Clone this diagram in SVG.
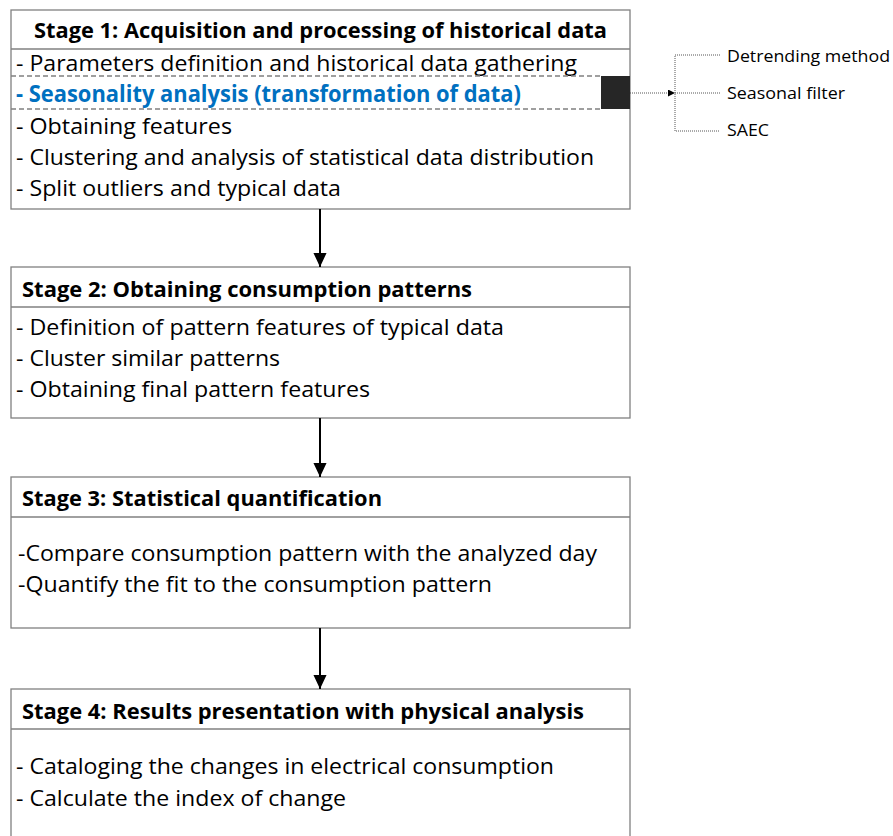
<svg xmlns="http://www.w3.org/2000/svg" width="893" height="836" viewBox="0 0 893 836">
<style>
.box{fill:#fff;stroke:#808080;stroke-width:1.3}
.div{stroke:#808080;stroke-width:1.3}
.t{font-family:"Open Sans","Liberation Sans",sans-serif;font-size:22.5px;fill:#000}
.h{font-family:"Open Sans","Liberation Sans",sans-serif;font-size:22px;font-weight:bold;fill:#000}
.s{font-family:"Open Sans","Liberation Sans",sans-serif;font-size:16px;fill:#000}
.arr{stroke:#000;stroke-width:2;fill:none}
.dot{stroke:#555;stroke-width:1;stroke-dasharray:1 1;fill:none}
</style>
<defs>
<marker id="ah" markerWidth="14" markerHeight="15" refX="15" refY="7" orient="auto" markerUnits="userSpaceOnUse" viewBox="0 0 15 14">
<path d="M0,0 L15,7 L0,14 Z" fill="#000"/>
</marker>
<marker id="sm" markerWidth="7" markerHeight="7" refX="6" refY="3.5" orient="auto" markerUnits="userSpaceOnUse" viewBox="0 0 7 7">
<path d="M0,0 L7,3.5 L0,7 Z" fill="#000"/>
</marker>
</defs>

<g id="stage1">
<rect class="box" x="11" y="10" width="619" height="199"/>
<line class="div" x1="11" y1="49" x2="630" y2="49"/>
<text class="h" x="34" y="38" textLength="573" lengthAdjust="spacingAndGlyphs">Stage 1: Acquisition and processing of historical data</text>
<text class="t" x="16" y="71" textLength="561" lengthAdjust="spacingAndGlyphs">- Parameters definition and historical data gathering</text>
<line x1="11" y1="76" x2="601" y2="76" stroke="#808080" stroke-width="1.3" stroke-dasharray="5 3"/>
<line x1="11" y1="109" x2="601" y2="109" stroke="#808080" stroke-width="1.3" stroke-dasharray="5 3"/>
<text class="t" x="16" y="102" textLength="505" lengthAdjust="spacingAndGlyphs" style="fill:#0070c0;font-weight:bold">- Seasonality analysis (transformation of data)</text>
<rect x="601" y="76" width="29" height="33" fill="#262626"/>
<text class="t" x="16" y="134" textLength="216" lengthAdjust="spacingAndGlyphs">- Obtaining features</text>
<text class="t" x="16" y="165" textLength="578" lengthAdjust="spacingAndGlyphs">- Clustering and analysis of statistical data distribution</text>
<text class="t" x="16" y="196" textLength="325" lengthAdjust="spacingAndGlyphs">- Split outliers and typical data</text>
</g>

<g id="stage2">
<rect class="box" x="11" y="267" width="619" height="151"/>
<line class="div" x1="11" y1="307" x2="630" y2="307"/>
<text class="h" x="22" y="297" textLength="450" lengthAdjust="spacingAndGlyphs">Stage 2: Obtaining consumption patterns</text>
<text class="t" x="16" y="335" textLength="488" lengthAdjust="spacingAndGlyphs">- Definition of pattern features of typical data</text>
<text class="t" x="16" y="366" textLength="264" lengthAdjust="spacingAndGlyphs">- Cluster similar patterns</text>
<text class="t" x="16" y="397" textLength="354" lengthAdjust="spacingAndGlyphs">- Obtaining final pattern features</text>
</g>

<g id="stage3">
<rect class="box" x="11" y="477" width="619" height="151"/>
<line class="div" x1="11" y1="517" x2="630" y2="517"/>
<text class="h" x="22" y="506" textLength="360" lengthAdjust="spacingAndGlyphs">Stage 3: Statistical quantification</text>
<text class="t" x="18" y="561" textLength="579" lengthAdjust="spacingAndGlyphs">-Compare consumption pattern with the analyzed day</text>
<text class="t" x="18" y="592" textLength="474" lengthAdjust="spacingAndGlyphs">-Quantify the fit to the consumption pattern</text>
</g>

<g id="stage4">
<rect class="box" x="11" y="689" width="619" height="160"/>
<line class="div" x1="11" y1="729" x2="630" y2="729"/>
<text class="h" x="22" y="719" textLength="562" lengthAdjust="spacingAndGlyphs">Stage 4: Results presentation with physical analysis</text>
<text class="t" x="16" y="774" textLength="538" lengthAdjust="spacingAndGlyphs">- Cataloging the changes in electrical consumption</text>
<text class="t" x="16" y="806" textLength="330" lengthAdjust="spacingAndGlyphs">- Calculate the index of change</text>
</g>

<g id="methods">
<text class="s" x="727" y="62" textLength="163" lengthAdjust="spacingAndGlyphs">Detrending method</text>
<text class="s" x="727" y="99" textLength="118" lengthAdjust="spacingAndGlyphs">Seasonal filter</text>
<text class="s" x="727" y="136" textLength="42" lengthAdjust="spacingAndGlyphs">SAEC</text>
</g>

<g id="connectors">
<line class="arr" x1="320" y1="209" x2="320" y2="267" marker-end="url(#ah)"/>
<line class="arr" x1="320" y1="418" x2="320" y2="477" marker-end="url(#ah)"/>
<line class="arr" x1="320" y1="628" x2="320" y2="689" marker-end="url(#ah)"/>
<line class="dot" x1="630" y1="93" x2="674" y2="93" marker-end="url(#sm)"/>
<path class="dot" d="M720,55 H675 V131 H720"/>
<line class="dot" x1="675" y1="93" x2="720" y2="93"/>
</g>
</svg>
